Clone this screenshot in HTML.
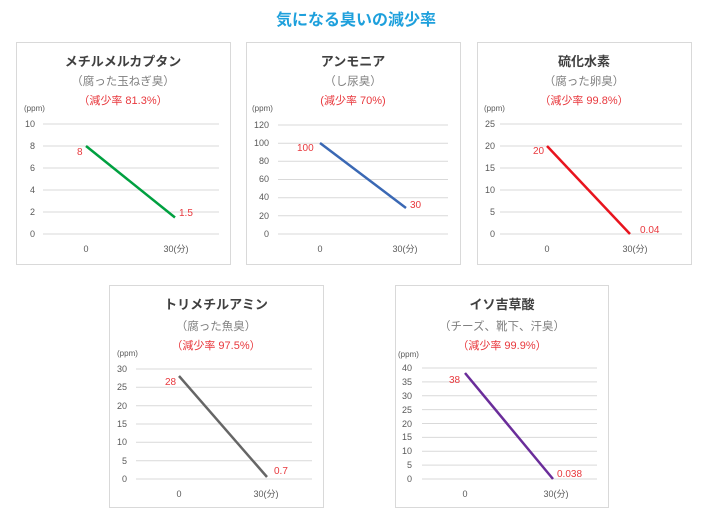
<!DOCTYPE html>
<html><head><meta charset="utf-8"><style>
body{margin:0;background:#fff;}
svg{display:block;font-family:"Liberation Sans","Noto Sans CJK JP",sans-serif;}
.t{font-size:13px;font-weight:bold;fill:#404040;text-anchor:middle}
.s{font-size:11.5px;fill:#808080;text-anchor:middle}
.r{font-size:11px;fill:#e8383d;text-anchor:middle}
.y{font-size:9px;fill:#595959;text-anchor:end}
.x{font-size:9px;fill:#595959;text-anchor:middle}
.p{font-size:8px;fill:#595959}
.d{font-size:10px;fill:#e8383d}
.g{stroke:#d9d9d9;stroke-width:1}
.b{fill:#fff;stroke:#d9d9d9;stroke-width:1}
</style></head><body>
<svg width="712" height="524" viewBox="0 0 712 524">
<text x="356" y="25" text-anchor="middle" font-size="16" font-weight="bold" fill="#1ea0dc">気になる臭いの減少率</text>

<!-- Panel 1 -->
<rect class="b" x="16.5" y="42.5" width="214" height="222"/>
<text class="t" x="123" y="66">メチルメルカプタン</text>
<text class="s" x="123" y="85">（腐った玉ねぎ臭）</text>
<text class="r" x="123" y="104">（減少率 81.3%）</text>
<text class="p" x="24" y="111">(ppm)</text>
<g class="g"><line x1="43" x2="219" y1="124" y2="124"/><line x1="43" x2="219" y1="146" y2="146"/><line x1="43" x2="219" y1="168" y2="168"/><line x1="43" x2="219" y1="190" y2="190"/><line x1="43" x2="219" y1="212" y2="212"/><line x1="43" x2="219" y1="234" y2="234"/></g>
<g class="y"><text x="35" y="127">10</text><text x="35" y="149">8</text><text x="35" y="171">6</text><text x="35" y="193">4</text><text x="35" y="215">2</text><text x="35" y="237">0</text></g>
<line x1="86" y1="146" x2="175" y2="217.5" stroke="#00a040" stroke-width="2.5"/>
<text class="d" x="77" y="155">8</text><text class="d" x="179" y="216">1.5</text>
<text class="x" x="86" y="252">0</text><text class="x" x="176" y="252">30(分)</text>

<!-- Panel 2 -->
<rect class="b" x="246.5" y="42.5" width="214" height="222"/>
<text class="t" x="353" y="66">アンモニア</text>
<text class="s" x="353" y="85">（し尿臭）</text>
<text class="r" x="353" y="104">(減少率 70%)</text>
<text class="p" x="252" y="111">(ppm)</text>
<g class="g"><line x1="278" x2="448" y1="125" y2="125"/><line x1="278" x2="448" y1="143.2" y2="143.2"/><line x1="278" x2="448" y1="161.3" y2="161.3"/><line x1="278" x2="448" y1="179.5" y2="179.5"/><line x1="278" x2="448" y1="197.7" y2="197.7"/><line x1="278" x2="448" y1="215.8" y2="215.8"/><line x1="278" x2="448" y1="234" y2="234"/></g>
<g class="y"><text x="269" y="128">120</text><text x="269" y="146">100</text><text x="269" y="164">80</text><text x="269" y="182">60</text><text x="269" y="200">40</text><text x="269" y="219">20</text><text x="269" y="237">0</text></g>
<line x1="320" y1="143" x2="406" y2="208" stroke="#3a68b4" stroke-width="2.5"/>
<text class="d" x="297" y="151">100</text><text class="d" x="410" y="208">30</text>
<text class="x" x="320" y="252">0</text><text class="x" x="405" y="252">30(分)</text>

<!-- Panel 3 -->
<rect class="b" x="477.5" y="42.5" width="214" height="222"/>
<text class="t" x="584" y="66">硫化水素</text>
<text class="s" x="584" y="85">（腐った卵臭）</text>
<text class="r" x="584" y="104">（減少率 99.8%）</text>
<text class="p" x="484" y="111">(ppm)</text>
<g class="g"><line x1="500" x2="682" y1="124" y2="124"/><line x1="500" x2="682" y1="146" y2="146"/><line x1="500" x2="682" y1="168" y2="168"/><line x1="500" x2="682" y1="190" y2="190"/><line x1="500" x2="682" y1="212" y2="212"/><line x1="500" x2="682" y1="234" y2="234"/></g>
<g class="y"><text x="495" y="127">25</text><text x="495" y="149">20</text><text x="495" y="171">15</text><text x="495" y="193">10</text><text x="495" y="215">5</text><text x="495" y="237">0</text></g>
<line x1="547" y1="146" x2="630" y2="234" stroke="#e8141e" stroke-width="2.5"/>
<text class="d" x="533" y="154">20</text><text class="d" x="640" y="233">0.04</text>
<text class="x" x="547" y="252">0</text><text class="x" x="635" y="252">30(分)</text>

<!-- Panel 4 -->
<rect class="b" x="109.5" y="285.5" width="214" height="222"/>
<text class="t" x="216" y="309">トリメチルアミン</text>
<text class="s" x="216" y="330">（腐った魚臭）</text>
<text class="r" x="216" y="349">（減少率 97.5%）</text>
<text class="p" x="117" y="356">(ppm)</text>
<g class="g"><line x1="136" x2="312" y1="369" y2="369"/><line x1="136" x2="312" y1="387.3" y2="387.3"/><line x1="136" x2="312" y1="405.7" y2="405.7"/><line x1="136" x2="312" y1="424" y2="424"/><line x1="136" x2="312" y1="442.3" y2="442.3"/><line x1="136" x2="312" y1="460.7" y2="460.7"/><line x1="136" x2="312" y1="479" y2="479"/></g>
<g class="y"><text x="127" y="372">30</text><text x="127" y="390">25</text><text x="127" y="409">20</text><text x="127" y="427">15</text><text x="127" y="445">10</text><text x="127" y="464">5</text><text x="127" y="482">0</text></g>
<line x1="179" y1="376" x2="267" y2="477" stroke="#666" stroke-width="2.5"/>
<text class="d" x="165" y="385">28</text><text class="d" x="274" y="474">0.7</text>
<text class="x" x="179" y="497">0</text><text class="x" x="266" y="497">30(分)</text>

<!-- Panel 5 -->
<rect class="b" x="395.5" y="285.5" width="213" height="222"/>
<text class="t" x="502" y="309">イソ吉草酸</text>
<text class="s" x="502" y="330">（チーズ、靴下、汗臭）</text>
<text class="r" x="502" y="349">（減少率 99.9%）</text>
<text class="p" x="398" y="357">(ppm)</text>
<g class="g"><line x1="422" x2="597" y1="368" y2="368"/><line x1="422" x2="597" y1="381.9" y2="381.9"/><line x1="422" x2="597" y1="395.8" y2="395.8"/><line x1="422" x2="597" y1="409.6" y2="409.6"/><line x1="422" x2="597" y1="423.5" y2="423.5"/><line x1="422" x2="597" y1="437.4" y2="437.4"/><line x1="422" x2="597" y1="451.3" y2="451.3"/><line x1="422" x2="597" y1="465.1" y2="465.1"/><line x1="422" x2="597" y1="479" y2="479"/></g>
<g class="y"><text x="412" y="371">40</text><text x="412" y="385">35</text><text x="412" y="399">30</text><text x="412" y="413">25</text><text x="412" y="427">20</text><text x="412" y="440">15</text><text x="412" y="454">10</text><text x="412" y="468">5</text><text x="412" y="482">0</text></g>
<line x1="465" y1="373" x2="553" y2="479" stroke="#6a2d9a" stroke-width="2.5"/>
<text class="d" x="449" y="383">38</text><text class="d" x="557" y="477">0.038</text>
<text class="x" x="465" y="497">0</text><text class="x" x="556" y="497">30(分)</text>
</svg>
</body></html>
